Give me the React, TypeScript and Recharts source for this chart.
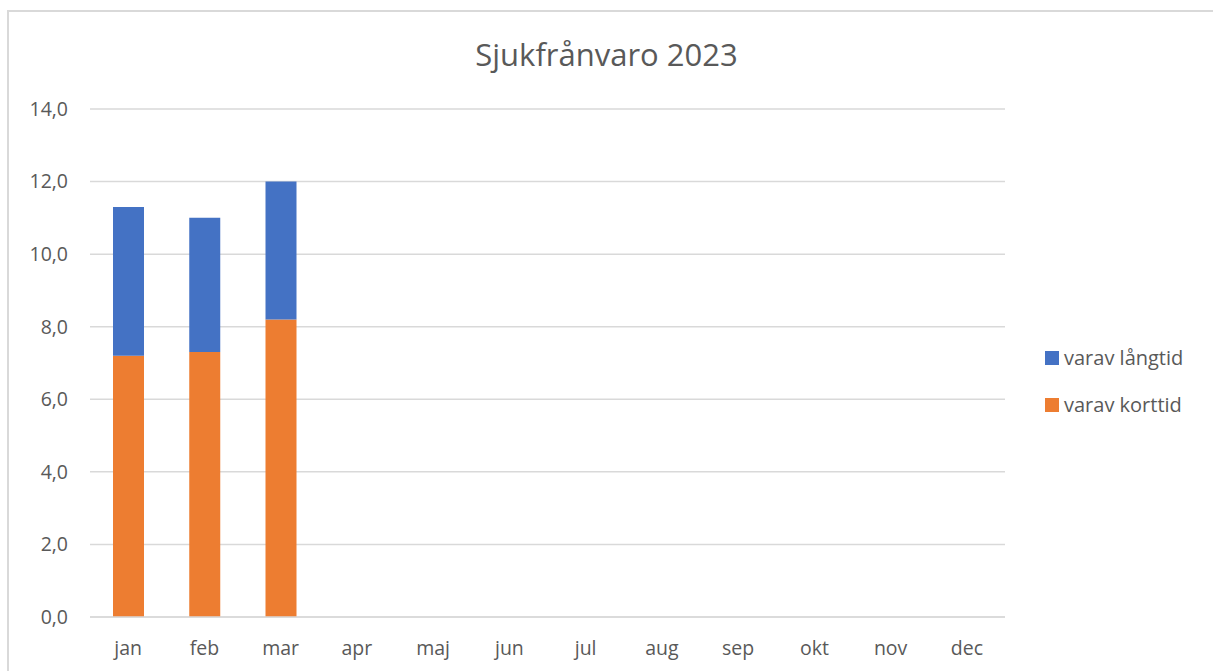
import React from 'react';
import { BarChart, Bar, XAxis, YAxis, CartesianGrid, Legend } from 'recharts';

const months = ['jan', 'feb', 'mar', 'apr', 'maj', 'jun', 'jul', 'aug', 'sep', 'okt', 'nov', 'dec'];
const korttid = [7.2, 7.3, 8.2, null, null, null, null, null, null, null, null, null];
const langtid = [4.1, 3.7, 3.8, null, null, null, null, null, null, null, null, null];
const yTicks = [0, 2, 4, 6, 8, 10, 12, 14];

const data = months.map((m, i) => ({ month: m, korttid: korttid[i], langtid: langtid[i] }));

const BLUE = '#4472C4';
const ORANGE = '#ED7D31';
const TEXT = '#595959';
const FONT = '"Open Sans", "Noto Sans", sans-serif';

const legendItems = [
  { label: 'varav långtid', color: BLUE },
  { label: 'varav korttid', color: ORANGE },
];

const renderLegend = () => (
  <div style={{ fontFamily: FONT, fontSize: 20, color: TEXT }}>
    {legendItems.map((it) => (
      <div key={it.label} style={{ display: 'flex', alignItems: 'center', height: 47 }}>
        <span style={{ width: 14, height: 14, background: it.color, marginRight: 5, display: 'inline-block' }} />
        <span>{it.label}</span>
      </div>
    ))}
  </div>
);

export default function App() {
  return (
    <div style={{ position: 'absolute', left: 0, top: 0, width: 1213, height: 671, background: '#fff', overflow: 'hidden' }}>
      <div
        style={{
          position: 'absolute',
          left: 7,
          top: 10,
          width: 1220,
          height: 680,
          borderTop: '2px solid #D9D9D9',
          borderLeft: '2px solid #D9D9D9',
        }}
      />
      <div
        style={{
          position: 'absolute',
          left: 0,
          top: 33,
          width: 1213,
          textAlign: 'center',
          fontFamily: FONT,
          fontSize: 31,
          color: TEXT,
        }}
      >
        Sjukfrånvaro 2023
      </div>
      <div style={{ position: 'absolute', left: 0, top: 0 }}>
        <BarChart
          width={1213}
          height={671}
          data={data}
          margin={{ top: 109, right: 38, bottom: 0, left: 0 }}
          barSize={31}
        >
          <CartesianGrid vertical={false} stroke="#D9D9D9" strokeWidth={1.5} />
          <XAxis
            dataKey="month"
            axisLine={{ stroke: '#D9D9D9', strokeWidth: 1.5 }}
            tickLine={false}
            height={54}
            tickMargin={18}
            tick={{ fill: TEXT, fontSize: 19.5, fontFamily: FONT }}
          />
          <YAxis
            width={90}
            domain={[0, 14]}
            ticks={yTicks}
            axisLine={false}
            tickLine={false}
            tickMargin={16}
            tickFormatter={(v: number) => v.toFixed(1).replace('.', ',')}
            tick={{ fill: TEXT, fontSize: 19.5, fontFamily: FONT }}
          />
          <Legend
            layout="vertical"
            align="right"
            verticalAlign="top"
            content={renderLegend}
            wrapperStyle={{ left: 1045, top: 334, width: 170 }}
          />
          <Bar dataKey="korttid" stackId="a" fill={ORANGE} isAnimationActive={false} />
          <Bar dataKey="langtid" stackId="a" fill={BLUE} isAnimationActive={false} />
        </BarChart>
      </div>
    </div>
  );
}
